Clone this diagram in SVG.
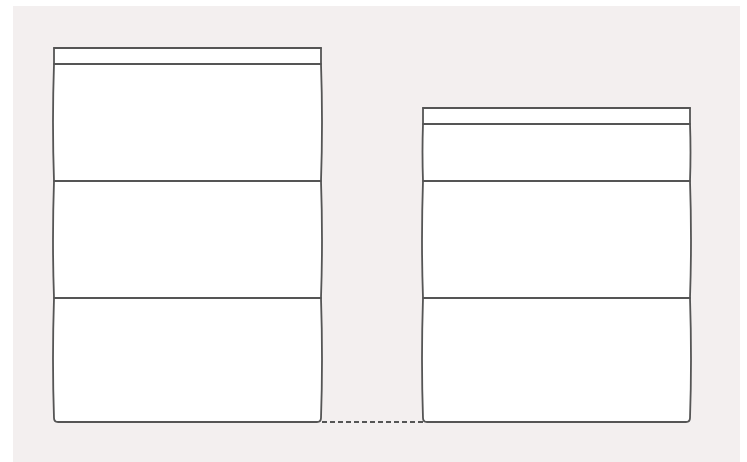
<svg xmlns="http://www.w3.org/2000/svg" width="747" height="462" viewBox="0 0 747 462">
<style>
.box{fill:#ffffff;stroke:none}
.ln{fill:none;stroke:#555555;stroke-width:1.8;stroke-linecap:round;stroke-linejoin:round}
.dash{fill:none;stroke:#555555;stroke-width:1.8;stroke-dasharray:5 3}
</style>
<rect x="0" y="0" width="747" height="462" fill="#ffffff"/>
<rect x="13" y="6" width="727" height="456" fill="#f3efef"/>
<g id="stack-left">
<path class="box" d="M54,48 L321,48 L321,422 L54,422 Z"/>
<path class="ln" d="M54,48 L321,48 M54,64 L321,64 M54,181 L321,181 M54,298 L321,298"/>
<path class="ln" d="M54,48 L54,64 Q52,122 54,181 Q52,240 54,298 Q52,360 54,418 Q54,422 58,422 L317,422 Q321,422 321,418 Q323,360 321,298 Q323,240 321,181 Q323,122 321,64 L321,48"/>
</g>
<g id="stack-right">
<path class="box" d="M423,108 L690,108 L690,422 L423,422 Z"/>
<path class="ln" d="M423,108 L690,108 M423,124 L690,124 M423,181 L690,181 M423,298 L690,298"/>
<path class="ln" d="M423,108 L423,124 Q422,152 423,181 Q421,240 423,298 Q421,360 423,418 Q423,422 427,422 L686,422 Q690,422 690,418 Q692,360 690,298 Q692,240 690,181 Q691,152 690,124 L690,108"/>
</g>
<g id="connectors">
<path class="dash" d="M322,422 L423,422"/>
</g>
</svg>
